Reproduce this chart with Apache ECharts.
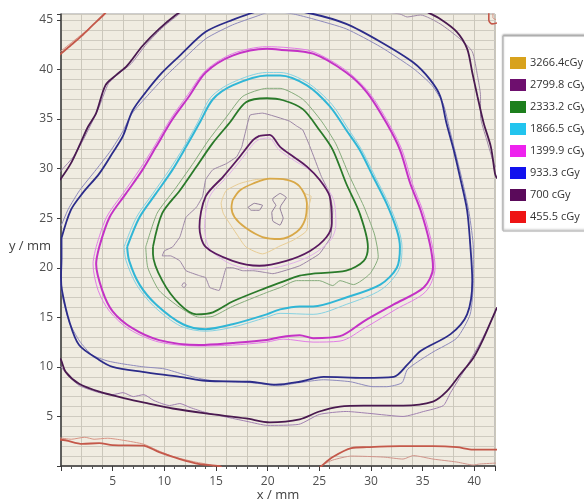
<!DOCTYPE html>
<html><head><meta charset="utf-8">
<script src="https://cdn.jsdelivr.net/npm/echarts@6/dist/echarts.min.js"></script>
<style>html,body{margin:0;padding:0;background:#fff}#c{width:584px;height:504px}</style>
</head><body><div id="c"></div>
<script>
// ---- data ----
const doseNames = ['3266.4cGy','2799.8 cGy','2333.2 cGy','1866.5 cGy','1399.9 cGy','933.3 cGy','700 cGy','455.5 cGy'];
const legendColors = ['#d8a21c','#6e0f6e','#1d7f1d','#22c4ee','#ee22ee','#1212ee','#5a0a5a','#ee1414'];
const xTicks = [5,10,15,20,25,30,35,40];
const yTicks = [5,10,15,20,25,30,35,40,45];

// 3266.4 cGy
const d3266_calc = [[16.6,26.8],[17.3,27.8],[18.6,28.5],[20.2,29.0],[21.8,28.9],[23.1,28.2],[23.8,26.5],[23.6,24.8],[22.8,23.6],[21.2,22.9],[19.5,23.1],[17.9,24.0],[16.8,25.1],[16.5,26.1],[16.6,26.8]];
const d3266_meas = [[15.7,27.2],[16.0,27.8],[17.3,28.5],[18.9,28.9],[20.8,29.0],[22.8,28.5],[23.6,27.5],[24.2,27.2],[23.9,25.8],[23.8,23.8],[22.5,22.8],[21.2,22.2],[19.5,21.4],[17.9,22.1],[17.0,23.4],[16.3,24.5],[15.7,25.5],[15.5,26.5],[15.7,27.2]];
// 2799.8 cGy
const d2799_calc = [[19.2,33.3],[20.2,33.4],[21.2,32.2],[22.5,31.2],[23.8,30.2],[25.0,28.9],[26.0,27.2],[26.2,24.5],[25.7,23.1],[24.1,21.7],[21.8,20.7],[19.2,20.2],[16.6,20.7],[14.0,22.1],[13.4,24.1],[14.0,27.2],[15.7,29.2],[17.3,31.2],[18.6,32.9],[19.2,33.3]];
const d2799_halo = [[19.3,33.0],[20.1,33.1],[21.1,31.9],[22.6,30.8],[24.0,29.9],[25.4,28.5],[26.4,26.8],[26.6,24.3],[26.1,22.8],[24.3,21.3],[21.9,20.3],[19.2,19.8],[16.6,20.3],[14.4,21.9],[13.9,24.1],[14.4,27.2],[16.0,29.1],[17.5,31.0],[18.7,32.6],[19.3,33.0]];
const d2799_meas = [[17.5,32.2],[17.9,33.9],[18.3,35.4],[19.5,35.6],[22.1,34.8],[22.8,34.3],[23.4,33.9],[24.1,32.2],[25.2,29.2],[26.0,27.5],[26.3,25.8],[26.1,23.1],[25.0,21.4],[23.1,20.2],[20.5,19.4],[19.9,19.5],[18.6,19.7],[17.6,19.7],[16.6,20.0],[16.0,20.0],[15.7,19.0],[15.3,17.7],[14.4,18.0],[14.0,19.0],[13.4,19.2],[12.1,19.7],[11.5,20.7],[10.6,21.2],[9.8,21.2],[10.0,21.7],[10.8,22.1],[11.5,23.1],[11.8,24.1],[12.1,25.1],[13.1,26.1],[13.7,27.2],[14.0,28.9],[14.7,29.9],[16.0,30.5],[17.0,31.2],[17.5,32.2]];
const d2799_dot = [[11.7,18.2],[11.9,18.5],[12.1,18.3],[11.9,18.0],[11.7,18.2]];
const d2799_blobA = [[18.1,26.1],[18.7,26.5],[19.5,26.3],[19.2,25.8],[18.4,25.8],[18.1,26.1]];
const d2799_blobB = [[20.5,27.0],[21.2,27.5],[21.8,27.1],[21.3,26.3],[21.2,26.0],[21.5,25.0],[21.2,24.3],[20.5,24.7],[20.4,25.6],[20.8,26.3],[20.5,26.8],[20.5,27.0]];
// 2333.2 cGy
const d2333_calc = [[8.9,22.1],[9.8,25.5],[11.5,27.8],[13.1,30.2],[14.7,32.6],[16.3,34.6],[17.9,36.7],[19.9,37.1],[21.5,36.9],[23.4,36.0],[25.0,33.9],[26.3,31.9],[27.6,28.5],[28.9,25.5],[29.7,22.1],[29.3,20.7],[27.6,19.7],[24.4,19.4],[23.1,19.2],[21.2,18.5],[19.9,18.0],[16.6,16.6],[14.7,15.5],[13.1,15.3],[11.5,16.3],[9.8,18.7],[8.9,21.4],[8.9,22.1]];
const d2333_meas = [[8.2,22.1],[9.3,25.5],[11.0,27.9],[12.7,30.4],[14.3,32.9],[16.0,35.2],[17.6,37.3],[19.9,38.1],[21.2,38.1],[23.4,37.0],[25.2,34.8],[26.6,32.5],[27.9,29.3],[29.3,26.2],[30.3,23.5],[30.6,22.1],[30.7,21.1],[29.9,19.4],[28.3,18.3],[27.0,18.7],[26.3,18.2],[25.0,18.7],[22.8,18.7],[21.2,18.0],[19.9,17.5],[16.6,16.1],[14.7,15.1],[13.4,15.0],[11.5,16.0],[9.5,17.7],[8.4,20.0],[8.2,22.1]];
// 1866.5 cGy
const d1866_calc = [[6.4,22.1],[7.6,25.1],[9.2,27.5],[10.8,29.9],[12.1,32.2],[13.4,34.6],[14.7,37.0],[16.6,38.4],[19.9,39.4],[21.2,39.4],[23.8,38.4],[26.0,36.3],[27.6,33.9],[28.9,31.9],[30.2,29.2],[31.5,26.5],[32.5,23.8],[32.8,22.1],[32.5,20.0],[30.9,18.3],[27.6,17.0],[24.4,16.1],[23.1,16.1],[21.2,15.8],[19.9,15.3],[16.6,14.3],[14.0,13.8],[11.8,14.3],[9.2,16.3],[7.6,18.3],[6.6,20.7],[6.4,22.1]];
const d1866_meas = [[6.1,22.1],[7.3,25.1],[8.9,27.5],[10.5,29.9],[11.9,32.2],[13.2,34.6],[14.5,37.2],[16.6,38.7],[19.9,39.7],[21.2,39.7],[23.8,38.7],[26.2,36.5],[27.8,34.0],[29.1,31.9],[30.4,29.2],[31.7,26.5],[32.7,23.8],[33.0,22.1],[32.7,19.8],[31.0,17.8],[27.6,16.3],[24.4,15.3],[21.2,15.4],[19.9,15.0],[16.6,14.0],[14.0,13.6],[11.6,14.1],[9.0,16.1],[7.3,18.3],[6.3,20.7],[6.1,22.1]];
// 1399.9 cGy
const d1399_calc = [[3.7,22.1],[4.7,25.1],[6.3,27.5],[7.9,29.9],[9.2,32.2],[10.8,35.0],[12.4,37.3],[14.0,39.7],[16.6,41.4],[19.9,42.1],[21.2,42.0],[24.4,41.6],[27.6,39.7],[29.6,37.7],[31.5,34.6],[32.8,31.9],[33.8,28.5],[34.8,25.8],[35.7,22.4],[36.0,20.0],[35.1,18.0],[32.2,16.3],[29.3,14.6],[27.0,13.1],[24.4,12.9],[23.1,13.2],[21.2,13.0],[19.9,12.7],[16.6,12.4],[13.4,12.2],[9.5,12.7],[6.9,13.9],[5.0,15.6],[4.0,17.7],[3.4,20.4],[3.7,22.1]];
const d1399_meas = [[3.4,22.1],[4.4,25.1],[6.0,27.5],[7.6,29.9],[9.0,32.2],[10.6,35.0],[12.3,37.5],[14.0,39.9],[16.6,41.6],[19.9,42.3],[22.0,42.2],[24.4,41.8],[27.6,39.9],[29.8,37.7],[31.7,34.6],[33.0,31.9],[34.0,28.5],[35.0,25.8],[35.9,22.4],[36.2,20.0],[35.3,17.6],[32.4,15.8],[29.5,14.0],[27.0,12.6],[24.4,12.5],[21.5,12.8],[19.9,12.5],[16.6,12.2],[13.4,12.1],[9.5,12.5],[6.6,13.8],[4.7,15.6],[3.6,17.7],[3.1,20.4],[3.4,22.1]];
// 933.3 cGy
const d933_calc = [[0.05,23.0],[0.94,25.8],[2.07,27.5],[3.7,29.5],[5.0,31.6],[6.0,33.3],[6.9,35.8],[8.2,37.7],[9.8,39.7],[11.5,41.4],[14.0,43.8],[16.6,45.0],[19.5,46.0],[21.2,46.1],[24.4,45.6],[27.6,44.6],[30.9,42.8],[34.1,40.7],[35.7,39.0],[36.7,37.3],[37.3,34.6],[38.0,31.9],[38.6,29.2],[39.3,25.8],[39.6,22.4],[39.8,18.7],[39.3,15.3],[37.7,13.3],[34.8,11.6],[33.5,10.2],[32.2,9.0],[29.3,8.9],[25.4,9.0],[23.1,8.5],[20.8,8.2],[18.3,8.5],[14.0,8.6],[11.5,9.0],[7.9,9.5],[5.0,10.0],[3.7,10.7],[1.75,12.2],[0.8,14.6],[0.1,17.7],[0.0,19.0],[0.05,21.0],[0.05,23.0]];
const d933_meas = [[0.0,24.2],[0.7,25.9],[1.8,27.8],[3.4,29.9],[4.8,31.8],[5.9,33.6],[6.9,35.6],[8.4,37.4],[10.0,39.2],[11.5,40.7],[14.0,43.1],[16.6,44.5],[19.0,45.4],[20.5,45.9],[22.5,45.6],[24.4,45.1],[27.6,44.1],[30.9,42.3],[34.1,40.1],[35.9,38.4],[37.0,36.5],[37.6,34.0],[38.2,31.5],[38.9,28.5],[39.5,25.5],[39.9,22.0],[39.9,18.7],[39.6,15.3],[38.3,12.9],[36.0,11.5],[34.5,10.5],[33.5,9.7],[33.0,8.4],[31.5,8.0],[30.2,8.0],[28.0,8.5],[25.4,8.7],[23.0,8.4],[21.0,8.1],[18.5,8.4],[16.0,8.5],[14.0,8.7],[12.0,9.2],[10.0,9.8],[8.0,10.0],[6.0,10.3],[4.5,10.6],[3.0,11.2],[1.8,12.6],[0.8,14.5],[0.1,17.3],[-0.1,19.0]];
// 700 cGy
const d700_calc_ul = [[-0.2,28.8],[0.0,29.0],[0.94,30.5],[1.9,32.6],[2.6,34.2],[3.4,35.6],[4.3,38.4],[5.3,39.4],[6.4,40.4],[7.9,42.4],[9.5,44.1],[11.1,45.5],[12.0,46.1]];
const d700_meas_ul = [[-0.2,29.6],[0.0,29.8],[1.2,31.2],[2.2,33.0],[3.6,36.0],[4.6,38.6],[5.6,39.6],[6.8,40.6],[8.3,42.6],[9.9,44.3],[11.7,45.8],[12.3,46.2]];
const d700_calc_ur = [[35.0,46.2],[35.1,46.0],[36.7,45.1],[38.3,43.8],[39.3,42.1],[39.8,39.7],[40.3,37.3],[40.9,34.6],[41.6,32.2],[42.0,29.5],[42.2,29.0]];
const d700_meas_ur = [[30.0,46.2],[30.1,46.0],[32.8,45.6],[33.5,45.3],[34.8,45.5],[36.7,44.6],[38.6,43.1],[39.8,41.8],[40.3,39.4],[40.6,37.3],[40.6,35.3],[41.2,32.9],[41.9,30.5],[42.2,30.0]];
const d700_calc_lo = [[-0.2,10.9],[0.0,10.7],[0.45,9.5],[1.75,8.3],[3.7,7.5],[6.3,6.8],[8.5,6.3],[10.8,5.8],[14.0,5.3],[17.9,4.8],[20.2,4.4],[23.1,4.7],[25.0,5.5],[27.0,6.0],[29.3,6.1],[33.1,6.1],[36.0,6.5],[37.3,7.5],[38.6,9.2],[39.9,10.9],[40.9,12.9],[41.9,15.3],[42.2,16.0]];
const d700_meas_lo = [[-0.2,10.2],[0.0,10.0],[0.8,9.0],[1.8,8.1],[3.7,7.4],[5.0,7.2],[6.0,7.4],[7.0,7.0],[8.0,7.2],[9.0,6.6],[10.5,6.1],[11.5,6.3],[12.5,5.9],[14.0,5.4],[18.0,4.5],[20.0,4.1],[23.0,4.2],[25.0,5.2],[27.6,5.5],[29.9,5.3],[33.1,5.0],[35.1,5.5],[37.0,6.1],[37.7,7.4],[39.0,9.6],[40.5,12.3],[42.0,15.4],[42.2,15.8]];
// 455.5 cGy
const d455_calc_tl = [[-0.2,41.4],[0.0,41.6],[1.0,42.5],[2.0,43.4],[3.0,44.4],[4.2,45.6],[4.5,46.0]];
const d455_meas_tl = [[-0.2,41.7],[1.0,42.7],[2.2,43.7],[3.2,44.6],[4.3,45.8]];
const d455_calc_tr = [[41.4,46.0],[41.4,45.0],[41.7,44.6],[42.2,44.7]];
const d455_meas_tr = [[41.8,46.0],[41.8,45.2],[42.2,45.0]];
const d455_calc_bl = [[-0.2,2.65],[0.0,2.65],[2.07,2.24],[3.7,2.3],[5.0,2.1],[7.9,2.06],[9.5,1.4],[11.5,0.7],[13.4,0.2],[15.3,0.0],[15.6,-0.2]];
const d455_meas_bl = [[-0.2,2.85],[1.0,2.7],[2.3,2.9],[3.2,2.7],[4.5,2.8],[6.0,2.6],[8.0,2.2],[9.5,1.5],[11.0,0.9],[13.0,0.4],[14.5,0.1],[15.0,-0.2]];
const d455_calc_br = [[25.0,-0.2],[25.2,0.0],[26.3,0.9],[28.1,1.8],[29.6,1.9],[32.8,2.0],[36.0,2.0],[38.3,1.9],[39.9,1.66],[42.2,1.66]];
const d455_meas_br = [[25.0,-0.2],[25.3,0.1],[26.3,0.6],[28.1,1.0],[31.2,0.9],[33.1,0.7],[34.1,1.05],[36.0,0.7],[38.3,0.4],[39.9,0.1],[40.5,0.2],[42.2,0.3]];

// ---- build ----
function ln(name, data, color, width, smooth){
  return {name:name, type:'line', data:data, showSymbol:false, symbol:'none', smooth:smooth,
    lineStyle:{color:color, width:width}, itemStyle:{color:color}, silent:true, animation:false, z: width>1.5?3:2};
}
const series = [
  ln(doseNames[7], d455_meas_tl, '#d89484', 1, 0.2),
  ln(doseNames[7], d455_calc_tl, '#c4584a', 1.8, 0.3),
  ln(doseNames[7], d455_meas_tr, '#d89484', 1, 0.2),
  ln(doseNames[7], d455_calc_tr, '#c4584a', 1.6, 0.3),
  ln(doseNames[7], d455_meas_bl, '#d89484', 1, 0.2),
  ln(doseNames[7], d455_calc_bl, '#c4584a', 1.8, 0.3),
  ln(doseNames[7], d455_meas_br, '#d0948a', 1, 0.2),
  ln(doseNames[7], d455_calc_br, '#c4584a', 1.8, 0.3),
  ln(doseNames[6], d700_meas_ul, '#a286b0', 1, 0.2),
  ln(doseNames[6], d700_calc_ul, '#4a1a50', 1.8, 0.3),
  ln(doseNames[6], d700_meas_ur, '#a08aa8', 1, 0.2),
  ln(doseNames[6], d700_calc_ur, '#4a1a50', 1.8, 0.3),
  ln(doseNames[6], d700_meas_lo, '#a080b0', 1, 0.2),
  ln(doseNames[6], d700_calc_lo, '#4a1a50', 1.8, 0.3),
  ln(doseNames[5], d933_meas, '#8e8abc', 1, 0.2),
  ln(doseNames[5], d933_calc, '#2c2c8a', 1.8, 0.3),
  ln(doseNames[4], d1399_meas, '#e27ee6', 1, 0.3),
  ln(doseNames[4], d1399_calc, '#c432c6', 2, 0.3),
  ln(doseNames[3], d1866_meas, '#86d2e2', 1, 0.3),
  ln(doseNames[3], d1866_calc, '#30b6d6', 2, 0.3),
  ln(doseNames[2], d2333_meas, '#86ac7c', 1, 0.2),
  ln(doseNames[2], d2333_calc, '#2a7a2a', 1.8, 0.3),
  ln(doseNames[1], d2799_meas, '#9c86a6', 1, 0.1),
  ln(doseNames[1], d2799_halo, '#e0b2e8', 1, 0.3),
  ln(doseNames[1], d2799_calc, '#5a1a60', 1.8, 0.3),
  ln(doseNames[1], d2799_dot, '#9c86a6', 1, 0.3),
  ln(doseNames[1], d2799_blobA, '#8e7a98', 1, 0.1),
  ln(doseNames[1], d2799_blobB, '#8e7a98', 1, 0.1),
  ln(doseNames[0], d3266_meas, '#e8cc94', 1, 0.2),
  ln(doseNames[0], d3266_calc, '#d8a848', 1.8, 0.3)
];

const chart = echarts.init(document.getElementById('c'), null, {renderer:'canvas'});
const axisFont = {color:'#505050', fontSize:12, fontFamily:'Open Sans'};
chart.setOption({
  animation:false,
  backgroundColor:'#ffffff',
  grid:{left:61, top:14, width:434, height:452, containLabel:false, outerBoundsMode:'none',
    show:true, backgroundColor:'#f0ece1', borderColor:'#9a9a9a', borderWidth:1},
  legend:{
    orient:'vertical', left:503, top:36, icon:'rect', itemWidth:16, itemHeight:12, itemGap:10,
    padding:[21,4,8,7], backgroundColor:'#ffffff', borderColor:'#b0b0b0', borderWidth:1,
    shadowColor:'rgba(0,0,0,0.35)', shadowOffsetY:-1, shadowBlur:2,
    selectedMode:false,
    textStyle:{color:'#333', fontSize:11, fontFamily:'Open Sans', padding:[0,0,0,-1]},
    data: doseNames.map((n,i)=>({name:n, icon:'rect', itemStyle:{color:legendColors[i], borderWidth:0}, lineStyle:{width:0, opacity:0}}))
  },
  xAxis:[
    {type:'value', min:0, max:42, interval:5, position:'bottom',
      axisLine:{show:true, onZero:false, lineStyle:{color:'#3a3a3a', width:1.5}},
      axisTick:{show:true, length:5, lineStyle:{color:'#3a3a3a'}},
      minorTick:{show:true, splitNumber:5, length:3, lineStyle:{color:'#555'}},
      splitLine:{show:false},
      axisLabel:{show:true, margin:10, ...axisFont, formatter:v=> xTicks.includes(v)? String(v):''},
      name:'x / mm', nameLocation:'middle', nameGap:23, nameMoveOverlap:false,
      nameTextStyle:{color:'#404040', fontSize:13, fontFamily:'Open Sans'}
    },
    {type:'value', min:0, max:42, interval:2, position:'top',
      axisLine:{show:false}, axisTick:{show:false}, axisLabel:{show:false},
      splitLine:{show:true, lineStyle:{color:'#cbc7bb', width:1}}
    }
  ],
  yAxis:[
    {type:'value', min:0, max:45.6, interval:5,
      axisLine:{show:true, onZero:false, lineStyle:{color:'#3a3a3a', width:1.5}},
      axisTick:{show:true, length:4, lineStyle:{color:'#3a3a3a'}},
      minorTick:{show:false},
      splitLine:{show:true, lineStyle:{color:'#cfcbc0', width:1}},
      minorSplitLine:{show:true, lineStyle:{color:'#cfcbc0', width:1}},
      axisLabel:{show:true, margin:8, ...axisFont, formatter:v=> yTicks.includes(v)? String(v):''},
      name:'y / mm', nameLocation:'middle', nameRotate:0, nameGap:10, nameMoveOverlap:false,
      nameTextStyle:{color:'#404040', fontSize:13, fontFamily:'Open Sans', verticalAlign:'top', padding:[0,0,0,0]}
    }
  ],
  series: series
});
</script></body></html>
